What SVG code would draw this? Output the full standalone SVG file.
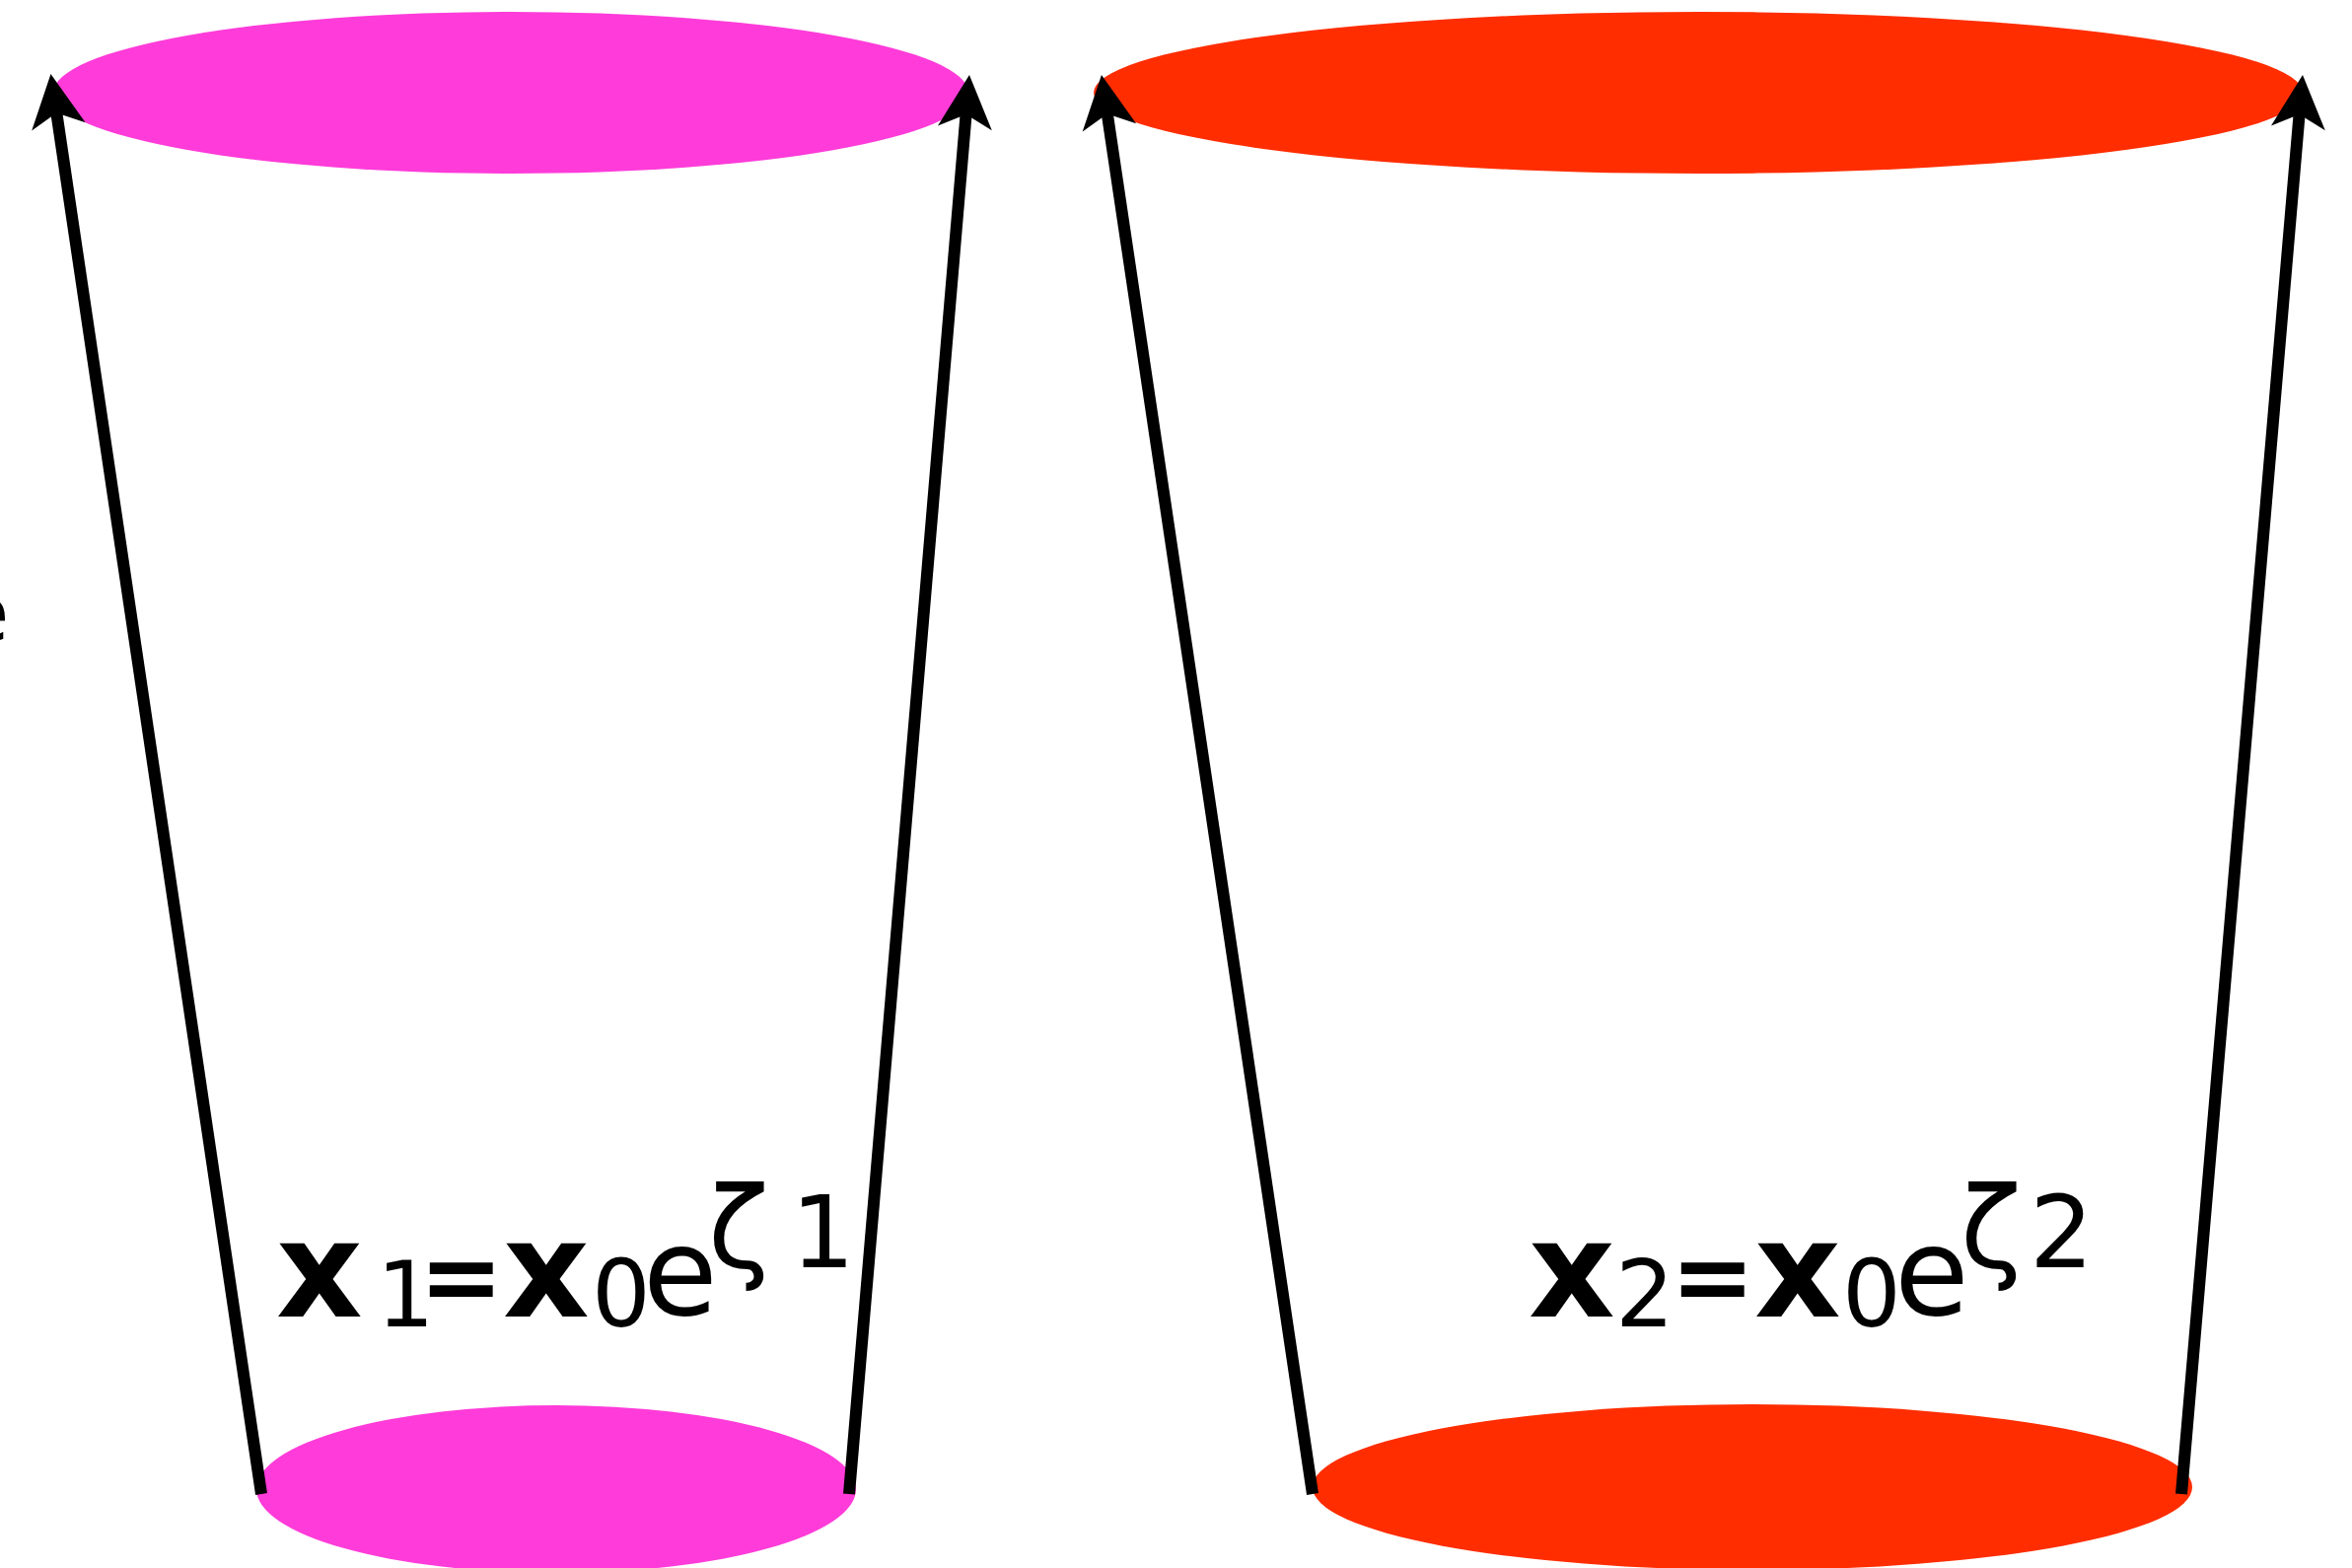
<svg xmlns="http://www.w3.org/2000/svg" width="2385" height="1590" viewBox="0 0 2385 1590">
<style>
.pink{fill:#FF3BD9}
.red{fill:#FF2D00}
.conn{stroke:#000;stroke-width:12;fill:none;stroke-linecap:butt}
.f{font-family:"DejaVu Sans",sans-serif;fill:#000}
.b{font-weight:bold}
.n{font-weight:normal}
</style>
<defs>
<marker id="ah" markerUnits="userSpaceOnUse" markerWidth="10" markerHeight="10" refX="0" refY="0" orient="auto" overflow="visible" style="overflow:visible">
<path d="M35,0 L-19,-27.5 L-5,0 L-19,27.5 Z" fill="#000"/>
</marker>
</defs>
<rect width="2385" height="1590" fill="#fff"/>
<g id="cup1-top"><ellipse class="pink" cx="518" cy="94" rx="464" ry="82"/></g>
<g id="cup1-bottom"><ellipse class="pink" cx="564" cy="1510" rx="304" ry="85"/></g>
<g id="cup2-top"><ellipse class="red" cx="1722" cy="94" rx="613" ry="82"/></g>
<g id="cup2-bottom"><ellipse class="red" cx="1777" cy="1508" rx="446" ry="84"/></g>
<g id="connectors">
<line class="conn" x1="265" y1="1515" x2="56.6" y2="109.6" marker-end="url(#ah)"/>
<line class="conn" x1="861" y1="1515" x2="980" y2="110.9" marker-end="url(#ah)"/>
<line class="conn" x1="1331" y1="1515" x2="1122.1" y2="110.6" marker-end="url(#ah)"/>
<line class="conn" x1="2212" y1="1515" x2="2332" y2="110.9" marker-end="url(#ah)"/>
</g>
<g id="edge-label"><text class="f" x="-40" y="650" font-size="80">e</text></g>
<g id="formula1">
<text class="f"><tspan class="b" x="280" y="1335" font-size="136">x</tspan><tspan x="382" y="1345" font-size="92">1</tspan><tspan class="b" x="425" y="1330" font-size="102">=</tspan><tspan class="b" x="510" y="1335" font-size="136">x</tspan><tspan x="600" y="1345" font-size="94">0</tspan><tspan x="652" y="1333" font-size="123">e</tspan><tspan x="718" y="1285" font-size="114">ζ</tspan><tspan x="802" y="1285" font-size="102">1</tspan></text>
</g>
<g id="formula2">
<text class="f"><tspan class="b" x="1550" y="1335" font-size="136">x</tspan><tspan x="1638" y="1345" font-size="94">2</tspan><tspan class="b" x="1694" y="1330" font-size="102">=</tspan><tspan class="b" x="1779" y="1335" font-size="136">x</tspan><tspan x="1868" y="1345" font-size="94">0</tspan><tspan x="1921" y="1333" font-size="123">e</tspan><tspan x="1988" y="1285" font-size="114">ζ</tspan><tspan x="2058" y="1285" font-size="102">2</tspan></text>
</g>
</svg>
